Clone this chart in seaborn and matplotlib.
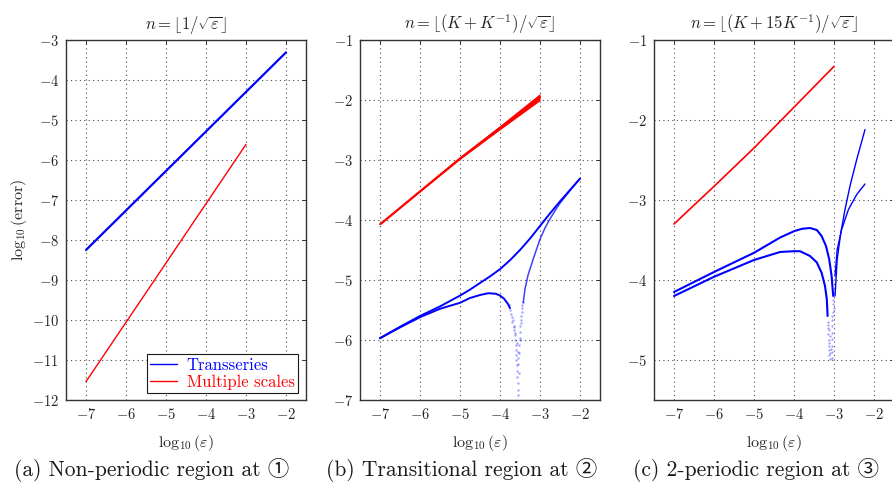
import matplotlib
matplotlib.use("Agg")
import matplotlib.pyplot as plt
import seaborn as sns

# ---------------- data ----------------
# panel (a)
a_trans_x = [-7.0, -2.0]
a_trans_y = [-8.25, -3.31]
a_ms_x = [-7.0, -3.0]
a_ms_y = [-11.54, -5.61]

# panel (b)
b_ms_x = [-7.0, -6.0, -5.0, -4.0, -3.0]
b_ms_y = [-4.07, -3.52, -2.97, -2.46, -1.95]
b_ms_halfwidth = [0.012, 0.015, 0.02, 0.035, 0.06]

b_upper_x = [-7.0, -6.5, -6.0, -5.5, -5.0, -4.75, -4.5, -4.25, -4.0, -3.75, -3.5,
             -3.25, -3.0, -2.75, -2.5, -2.25, -2.0]
b_upper_y = [-5.97, -5.78, -5.60, -5.44, -5.26, -5.16, -5.05, -4.94, -4.82, -4.67, -4.50,
             -4.31, -4.10, -3.89, -3.69, -3.50, -3.31]
b_lower_x = [-7.0, -6.5, -6.0, -5.5, -5.0, -4.75, -4.5, -4.29, -4.1, -4.0, -3.9, -3.8, -3.75]
b_lower_y = [-5.97, -5.79, -5.62, -5.48, -5.38, -5.30, -5.25, -5.22, -5.23, -5.26, -5.31,
             -5.40, -5.47]
b_rise_x = [-3.42, -3.375, -3.3, -3.17, -3.0, -2.88, -2.75, -2.6, -2.5, -2.25, -2.0]
b_rise_y = [-5.38, -5.15, -4.92, -4.65, -4.32, -4.14, -3.98, -3.82, -3.72, -3.51, -3.31]
b_dip_x = [-3.78, -3.74, -3.72, -3.70, -3.69, -3.66, -3.65, -3.63, -3.62, -3.61, -3.60,
           -3.59, -3.60, -3.58, -3.57, -3.57, -3.56, -3.55, -3.55, -3.54, -3.53, -3.52,
           -3.51, -3.50, -3.49, -3.48, -3.47, -3.46, -3.45, -3.44, -3.43, -3.62, -3.58,
           -3.55, -3.53, -3.50, -3.67, -3.64, -3.56, -3.48]
b_dip_y = [-5.42, -5.50, -5.56, -5.62, -5.70, -5.76, -5.84, -5.92, -6.00, -6.08, -6.16,
           -6.25, -6.34, -6.42, -6.52, -6.62, -6.72, -6.83, -6.92, -6.40, -6.22, -6.08,
           -5.96, -5.86, -5.76, -5.67, -5.60, -5.53, -5.47, -5.42, -5.36, -5.88, -6.05,
           -6.30, -6.55, -6.00, -5.66, -5.78, -6.20, -5.72]

# panel (c)
c_ms_x = [-7.0, -6.0, -5.0, -4.0, -3.0]
c_ms_y = [-3.30, -2.83, -2.35, -1.84, -1.33]
c_up_x = [-7.0, -6.0, -5.0, -4.35, -4.0, -3.8, -3.6, -3.43, -3.31, -3.2, -3.12, -3.06,
          -3.02]
c_up_y = [-4.15, -3.90, -3.66, -3.47, -3.39, -3.36, -3.35, -3.375, -3.45, -3.575, -3.74,
          -3.95, -4.20]
c_up_r_x = [-2.975, -2.92, -2.83, -2.725, -2.6, -2.43, -2.225]
c_up_r_y = [-4.20, -3.74, -3.41, -3.12, -2.825, -2.49, -2.12]
c_lo_x = [-7.0, -6.0, -5.0, -4.35, -4.0, -3.85, -3.6, -3.43, -3.31, -3.225, -3.18, -3.16]
c_lo_y = [-4.20, -3.96, -3.75, -3.65, -3.64, -3.64, -3.70, -3.78, -3.91, -4.075, -4.24,
          -4.45]
c_lo_r_x = [-2.975, -2.92, -2.81, -2.64, -2.43, -2.225]
c_lo_r_y = [-3.95, -3.62, -3.37, -3.12, -2.93, -2.80]
c_dip_x = [-3.15, -3.14, -3.14, -3.13, -3.13, -3.12, -3.12, -3.11, -3.11, -3.12,
           -3.03, -3.03, -3.04, -3.04, -3.05, -3.05, -3.06, -3.06, -3.05, -3.04,
           -3.15, -3.13, -3.11, -3.02, -3.01, -3.07]
c_dip_y = [-4.52, -4.60, -4.68, -4.75, -4.82, -4.88, -4.94, -4.99, -4.70, -4.62,
           -4.30, -4.40, -4.50, -4.58, -4.66, -4.74, -4.82, -4.90, -4.97, -4.45,
           -4.56, -4.79, -4.91, -4.25, -4.35, -4.86]

titles = [r"$n=\lfloor 1/\sqrt{\varepsilon}\rfloor$",
          r"$n=\lfloor (K+K^{-1})/\sqrt{\varepsilon}\rfloor$",
          r"$n=\lfloor (K+15K^{-1})/\sqrt{\varepsilon}\rfloor$"]
captions = ["(a) Non-periodic region at \u2460",
            "(b) Transitional region at \u2461",
            "(c) 2-periodic region at \u2462"]
xticks = [-7, -6, -5, -4, -3, -2]
yticks_a = list(range(-12, -2))
yticks_b = list(range(-7, 0))
yticks_c = list(range(-5, 0))

# ---------------- style ----------------
sns.set_theme(style="white")
plt.rcParams.update({
    "font.family": ["cmr10", "Noto Sans CJK JP"],
    "mathtext.fontset": "cm",
    "axes.formatter.use_mathtext": True,
    "axes.unicode_minus": True,
    "axes.edgecolor": "0.2",
    "axes.linewidth": 1.0,
    "xtick.direction": "in",
    "ytick.direction": "in",
    "xtick.color": "0.2",
    "ytick.color": "0.2",
    "xtick.labelcolor": "0.15",
    "ytick.labelcolor": "0.15",
})

BLUE = "#0000ff"
RED = "#ff0000"

fig = plt.figure(figsize=(8.92, 4.86), dpi=100)
W, H = 892.0, 486.0
lefts = [66, 360, 654]
axs = [fig.add_axes([l / W, 86 / H, 240 / W, 360 / H]) for l in lefts]


def style(ax, ylim, yticks, title, caption, cap_x):
    ax.set_xlim(-7.5, -1.5)
    ax.set_ylim(*ylim)
    ax.set_xticks(xticks)
    ax.set_yticks(yticks)
    ax.grid(True, color="0.3", linestyle=(0, (1, 3)), linewidth=0.8)
    ax.tick_params(axis="both", which="both", length=3, width=0.7,
                   top=True, right=True, labelsize=10.5, pad=5)
    ax.set_title(title, fontsize=12, pad=8, color="0.15")
    ax.set_xlabel(r"$\log_{10}(\varepsilon)$", fontsize=11.5, labelpad=8, color="0.15")
    ax.set_ylabel("")
    for s in ax.spines.values():
        s.set_visible(True)
    fig.text(cap_x / W, 1 - 470 / H, caption, ha="center", va="center",
             fontsize=15.5, color="0.1")


# panel (a)
ax = axs[0]
sns.lineplot(x=a_trans_x, y=a_trans_y, ax=ax, color=BLUE, lw=1.6, label="Transseries")
sns.lineplot(x=a_ms_x, y=a_ms_y, ax=ax, color=RED, lw=1.0, label="Multiple scales")
style(ax, (-12, -3), yticks_a, titles[0], captions[0], 152)
ax.set_ylabel(r"$\log_{10}(\mathrm{error})$", fontsize=11.5, labelpad=2, color="0.15")
leg = ax.legend(loc="lower right", bbox_to_anchor=(0.967, 0.019), fontsize=12,
                frameon=True, fancybox=False, edgecolor="0.1", framealpha=1,
                handlelength=1.6, borderpad=0.2, labelspacing=0.1,
                handletextpad=0.6, borderaxespad=0.0)
leg.get_frame().set_linewidth(0.8)
for t, c in zip(leg.get_texts(), [BLUE, RED]):
    t.set_color(c)
for h in leg.get_lines():
    h.set_linewidth(1.0)

# panel (b)
ax = axs[1]
lo = [y - h for y, h in zip(b_ms_y, b_ms_halfwidth)]
hi = [y + h for y, h in zip(b_ms_y, b_ms_halfwidth)]
ax.fill_between(b_ms_x, lo, hi, color=RED, lw=0)
sns.lineplot(x=b_ms_x, y=b_ms_y, ax=ax, color=RED, lw=1.3)
sns.lineplot(x=b_upper_x, y=b_upper_y, ax=ax, color=BLUE, lw=1.4)
sns.lineplot(x=b_lower_x, y=b_lower_y, ax=ax, color=BLUE, lw=1.4)
sns.lineplot(x=b_rise_x, y=b_rise_y, ax=ax, color=BLUE, lw=1.1, alpha=0.75)
sns.scatterplot(x=b_dip_x, y=b_dip_y, ax=ax, color=BLUE, s=3, alpha=0.35,
                linewidth=0)
style(ax, (-7, -1), yticks_b, titles[1], captions[1], 462)

# panel (c)
ax = axs[2]
sns.lineplot(x=c_ms_x, y=c_ms_y, ax=ax, color=RED, lw=1.2)
sns.lineplot(x=c_up_x, y=c_up_y, ax=ax, color=BLUE, lw=1.5)
sns.lineplot(x=c_up_r_x, y=c_up_r_y, ax=ax, color=BLUE, lw=1.0)
sns.lineplot(x=c_lo_x, y=c_lo_y, ax=ax, color=BLUE, lw=1.5)
sns.lineplot(x=c_lo_r_x, y=c_lo_r_y, ax=ax, color=BLUE, lw=1.0)
sns.scatterplot(x=c_dip_x, y=c_dip_y, ax=ax, color=BLUE, s=2.5, alpha=0.4,
                linewidth=0)
style(ax, (-5.5, -1), yticks_c, titles[2], captions[2], 756)

fig.savefig("out.png", dpi=100)
